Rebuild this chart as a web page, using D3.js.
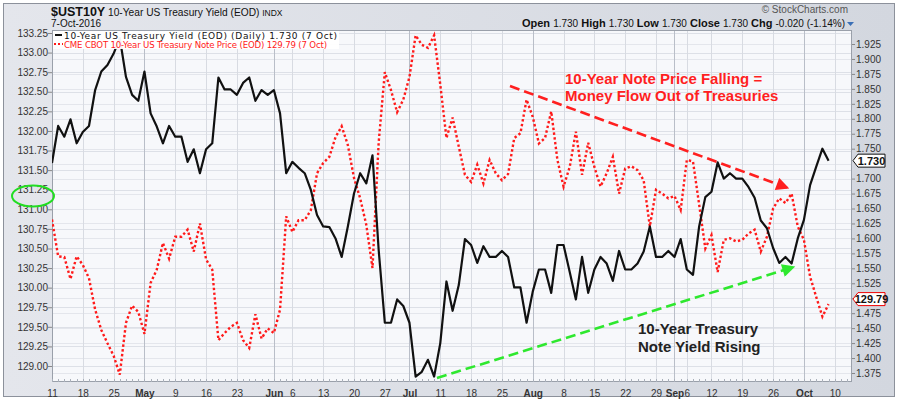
<!DOCTYPE html>
<html><head><meta charset="utf-8">
<script src="https://cdn.jsdelivr.net/npm/d3@7"></script>
<style>html,body{margin:0;padding:0;background:#fff}svg{display:block}</style>
</head><body><svg id="c" width="899" height="400"></svg>
<script>
// ---- data (trading-day index 0 = 11 Apr 2016 ... 126 = 7 Oct 2016)
const yieldData = [1.726,1.788,1.770,1.799,1.759,1.778,1.788,1.848,1.879,1.890,1.909,1.935,1.870,1.840,1.830,1.879,1.809,1.787,1.759,1.788,
1.770,1.770,1.728,1.749,1.709,1.749,1.759,1.869,1.849,1.849,1.840,1.860,1.869,1.830,1.848,1.840,1.848,1.809,1.709,1.728,
1.718,1.709,1.681,1.639,1.620,1.619,1.600,1.569,1.620,1.675,1.709,1.692,1.739,1.581,1.459,1.459,1.498,1.487,1.459,1.369,
1.377,1.397,1.369,1.425,1.528,1.479,1.522,1.599,1.589,1.559,1.587,1.569,1.569,1.579,1.569,1.518,1.518,1.459,1.511,1.548,
1.548,1.509,1.589,1.589,1.544,1.498,1.569,1.509,1.548,1.569,1.558,1.529,1.579,1.548,1.548,1.558,1.578,1.620,1.569,1.569,
1.579,1.569,1.599,1.548,1.539,1.620,1.669,1.678,1.727,1.700,1.709,1.700,1.700,1.686,1.668,1.630,1.617,1.584,1.559,1.569,
1.558,1.600,1.631,1.689,1.720,1.750,1.730];
const priceData = [130.87,130.40,130.39,130.11,130.40,130.29,130.12,129.72,129.46,129.29,129.13,128.89,129.55,129.77,129.69,129.41,130.06,130.23,130.57,130.37,
130.65,130.65,130.74,130.46,130.82,130.36,130.23,129.33,129.42,129.50,129.55,129.33,129.23,129.66,129.35,129.48,129.42,129.72,130.91,130.71,
130.86,130.86,130.99,131.46,131.59,131.67,131.92,132.06,131.82,131.40,131.14,130.80,130.25,131.85,132.75,132.52,132.24,132.40,132.69,133.22,
133.10,133.06,133.22,132.59,131.91,132.17,131.80,131.44,131.35,131.57,131.33,131.63,131.46,131.37,131.45,131.91,131.97,132.40,132.18,131.84,
131.91,132.25,131.63,131.29,131.54,131.99,131.44,131.85,131.54,131.29,131.46,131.67,131.20,131.52,131.55,131.50,131.37,130.78,131.25,131.20,
131.14,131.17,130.99,131.63,131.61,131.06,130.50,130.67,130.20,130.61,130.63,130.59,130.61,130.69,130.74,130.46,130.65,131.01,131.14,131.08,
131.20,130.78,130.61,130.14,129.88,129.63,129.79];
const tickIndex  = [0,5,10,15,20,25,30,36,39,44,49,54,58,63,68,73,78,83,88,93,98,101,103,107,112,117,122,127];
const tickLabels = ['11','18','25','May','9','16','23','Jun','6','13','20','27','Jul','11','18','25','Aug','8','15','22','29','Sep','6','12','19','26','Oct','10'];
const monthTicks = ['May','Jun','Jul','Aug','Sep','Oct'];
const priceTicks = [129.00,129.25,129.50,129.75,130.00,130.25,130.50,130.75,131.00,131.25,131.50,131.75,132.00,132.25,132.50,132.75,133.00,133.25];
const yieldTicks = [1.375,1.400,1.425,1.450,1.475,1.500,1.525,1.550,1.575,1.600,1.625,1.650,1.675,1.700,1.725,1.750,1.775,1.800,1.825,1.850,1.875,1.900,1.925];
const legendLabels = ['10-Year US Treasury Yield (EOD) (Daily) 1.730 (7 Oct)','CME CBOT 10-Year US Treasury Note Price (EOD) 129.79 (7 Oct)'];
const noteRed = ['10-Year Note Price Falling =','Money Flow Out of Treasuries'];
const noteBlack = ['10-Year Treasury','Note Yield Rising'];

const svg = d3.select('#c');
const L=52,R=852,T=30,B=382;
const x = d3.scaleLinear().domain([0,129.8]).range([L,R]);
const yY = d3.scaleLinear().domain([1.375,1.925]).range([373,44]);
const yP = d3.scaleLinear().domain([129.0,133.25]).range([366,33]);
const lastY = yieldData[yieldData.length-1], lastP = priceData[priceData.length-1];

// background
const defs = svg.append('defs');
const g1 = defs.append('linearGradient').attr('id','bg').attr('x1',0).attr('y1',0).attr('x2',1).attr('y2',0);
g1.append('stop').attr('offset','0%').attr('stop-color','#e4e6ec');
g1.append('stop').attr('offset','100%').attr('stop-color','#d3d7df');
defs.append('clipPath').attr('id','clip').append('rect').attr('x',L).attr('y',T).attr('width',R-L).attr('height',B-T);
svg.append('rect').attr('x',0).attr('y',0).attr('width',899).attr('height',400).attr('fill','#fff');
svg.append('rect').attr('x',3.5).attr('y',3.5).attr('width',891).attr('height',393).attr('fill','url(#bg)').attr('stroke','#8c919b');
svg.append('rect').attr('x',L).attr('y',T).attr('width',R-L).attr('height',B-T).attr('fill','#f7f8fb');

// grid
const grid = svg.append('g').attr('clip-path','url(#clip)');
grid.selectAll('.gp').data(priceTicks).join('line').attr('x1',L).attr('x2',R)
  .attr('y1',d=>Math.round(yP(d))+0.5).attr('y2',d=>Math.round(yP(d))+0.5).attr('stroke','#dde0e7');
grid.selectAll('.gy').data(yieldTicks).join('line').attr('x1',L).attr('x2',R)
  .attr('y1',d=>Math.round(yY(d))+0.5).attr('y2',d=>Math.round(yY(d))+0.5).attr('stroke','#e4e6ec');
grid.selectAll('.gx').data(tickIndex).join('line')
  .attr('x1',d=>Math.round(x(d))+0.5).attr('x2',d=>Math.round(x(d))+0.5).attr('y1',T).attr('y2',B)
  .attr('stroke',(d,i)=>monthTicks.includes(tickLabels[i])?'#b9bec8':'#d8dbe2');

// frame
svg.append('rect').attr('x',L+0.5).attr('y',T+0.5).attr('width',R-L-1).attr('height',B-T-1).attr('fill','none').attr('stroke','#9aa0aa');

// axes
const hf = 'Liberation Sans, Arial, sans-serif';
const axL = svg.append('g').attr('transform',`translate(${L},0)`)
  .call(d3.axisLeft(yP).tickValues(priceTicks).tickFormat(d3.format('.2f')).tickSize(4));
axL.select('.domain').remove();
axL.selectAll('text').attr('font-family',hf).attr('font-size',10).attr('fill','#333').attr('x',-4);
axL.selectAll('line').attr('stroke','#888');

// right-axis labels hidden behind the value tag are omitted (as in the original)
const tagGap = 8;
const axR = svg.append('g').attr('transform',`translate(${R},0)`)
  .call(d3.axisRight(yY).tickValues(yieldTicks.filter(t=>Math.abs(yY(t)-yY(lastY))>tagGap)).tickFormat(d3.format('.3f')).tickSize(3));
axR.select('.domain').remove();
axR.selectAll('text').attr('font-family',hf).attr('font-size',10).attr('fill','#333').attr('x',4);
axR.selectAll('line').attr('stroke','#888');

const axB = svg.append('g').attr('transform',`translate(0,${B})`)
  .call(d3.axisBottom(x).tickValues(tickIndex).tickFormat((d,i)=>tickLabels[i]).tickSize(0).tickPadding(8));
axB.select('.domain').remove();
axB.selectAll('text').attr('font-family',hf).attr('font-size',10).attr('fill','#333')
  .attr('font-weight',(d,i)=>monthTicks.includes(tickLabels[i])?'bold':'normal');
svg.append('g').selectAll('line').data(d3.range(0,130)).join('line')
  .attr('x1',d=>Math.round(x(d))+0.5).attr('x2',d=>Math.round(x(d))+0.5).attr('y1',B-3).attr('y2',B)
  .attr('stroke','#aab0ba');

// series
const lineP = d3.line().x((d,i)=>x(i)).y(d=>yP(d));
const lineY = d3.line().x((d,i)=>x(i)).y(d=>yY(d));
const plot = svg.append('g').attr('clip-path','url(#clip)');
plot.append('path').datum(priceData).attr('d',lineP).attr('fill','none')
  .attr('stroke','#ff1a1a').attr('stroke-width',2.4).attr('stroke-dasharray','2.4,2.4');
plot.append('path').datum(yieldData).attr('d',lineY).attr('fill','none')
  .attr('stroke','#111').attr('stroke-width',2.2).attr('stroke-linejoin','round');

// legend
const lg = svg.append('g');
lg.append('rect').attr('x',L+1).attr('y',T+1).attr('width',286).attr('height',18).attr('fill','#fff').attr('opacity',0.95);
lg.append('line').attr('x1',55).attr('x2',62).attr('y1',35).attr('y2',35).attr('stroke','#111').attr('stroke-width',2);
lg.append('line').attr('x1',54).attr('x2',63).attr('y1',44).attr('y2',44).attr('stroke','#ff1a1a').attr('stroke-width',2).attr('stroke-dasharray','2,2');
const legW = [273,263];
lg.selectAll('text').data(legendLabels).join('text').attr('x',64).attr('y',(d,i)=>38.5+i*9)
  .attr('font-family','DejaVu Sans, Verdana, sans-serif').attr('font-size',(d,i)=>i?8.6:9)
  .attr('textLength',(d,i)=>legW[i]).attr('lengthAdjust','spacing')
  .attr('fill',(d,i)=>i?'#ff1a1a':'#111').text(d=>d);

// header
const h1 = svg.append('text').attr('x',51).attr('y',16).attr('font-family',hf).attr('fill','#111');
h1.append('tspan').attr('font-weight','bold').attr('font-size',12.5).text('$UST10Y');
h1.append('tspan').attr('font-size',10.2).text(' 10-Year US Treasury Yield (EOD) ');
h1.append('tspan').attr('font-size',8.5).text('INDX');
svg.append('text').attr('x',51).attr('y',27).attr('font-family',hf).attr('font-size',10).attr('fill','#111').text('7-Oct-2016');
svg.append('text').attr('x',848).attr('y',13).attr('text-anchor','end').attr('font-family',hf).attr('font-size',10).attr('fill','#555').text('\u00a9 StockCharts.com');
const ohlc = svg.append('text').attr('x',845).attr('y',27).attr('text-anchor','end').attr('font-family',hf).attr('font-size',10).attr('fill','#111');
[['Open','1.730'],['High','1.730'],['Low','1.730'],['Close','1.730'],['Chg','-0.020 (-1.14%)']].forEach((p,i)=>{
  ohlc.append('tspan').attr('font-weight','bold').attr('font-size',11).text((i?'  ':'')+p[0]+' ');
  ohlc.append('tspan').attr('font-size',10).text(p[1]);
});
svg.append('path').attr('d','M847,22 L854,22 L850.5,26 Z').attr('fill','#3b6fb6');

// value tags
function tag(yv, txt, col){
  const g = svg.append('g');
  g.append('path').attr('d',`M${R+1},${yv} L${R+6},${yv-6.5} L${R+33},${yv-6.5} L${R+33},${yv+6.5} L${R+6},${yv+6.5} Z`)
    .attr('fill','#fff').attr('stroke',col).attr('stroke-width',1);
  g.append('text').attr('x',R+19.5).attr('y',yv+4).attr('text-anchor','middle').attr('font-family',hf)
    .attr('font-weight','bold').attr('font-size',11).attr('fill','#111').text(txt);
}
tag(yY(lastY), d3.format('.3f')(lastY), '#111');
tag(yP(lastP)-5, d3.format('.2f')(lastP), '#e00');

// annotations
function arrowHead(id, col){
  defs.append('marker').attr('id',id).attr('viewBox','0 0 10 10').attr('refX',9).attr('refY',5)
    .attr('markerWidth',5.5).attr('markerHeight',5).attr('orient','auto').attr('markerUnits','strokeWidth')
    .append('path').attr('d','M0,0 L10,5 L0,10 Z').attr('fill',col);
}
arrowHead('ar','#ff1f1f'); arrowHead('ag','#2ee82e');
svg.append('line').attr('x1',510).attr('y1',86).attr('x2',788).attr('y2',188)
  .attr('stroke','#ff1f1f').attr('stroke-width',2.6).attr('stroke-dasharray','10,5').attr('marker-end','url(#ar)');
svg.append('line').attr('x1',437).attr('y1',378).attr('x2',794).attr('y2',267)
  .attr('stroke','#2ee82e').attr('stroke-width',2.6).attr('stroke-dasharray','10,5').attr('marker-end','url(#ag)');
svg.append('ellipse').attr('cx',33).attr('cy',196).attr('rx',21).attr('ry',10.5).attr('fill','none')
  .attr('stroke','#22dd22').attr('stroke-width',2);

svg.append('g').selectAll('text').data(noteRed).join('text').attr('x',565).attr('y',(d,i)=>84+i*17)
  .attr('font-family',hf).attr('font-weight','bold').attr('font-size',15).attr('fill','#ff1f1f').text(d=>d);
svg.append('g').selectAll('text').data(noteBlack).join('text').attr('x',638).attr('y',(d,i)=>334+i*18)
  .attr('font-family',hf).attr('font-weight','bold').attr('font-size',15).attr('fill','#222').text(d=>d);
</script></body></html>
